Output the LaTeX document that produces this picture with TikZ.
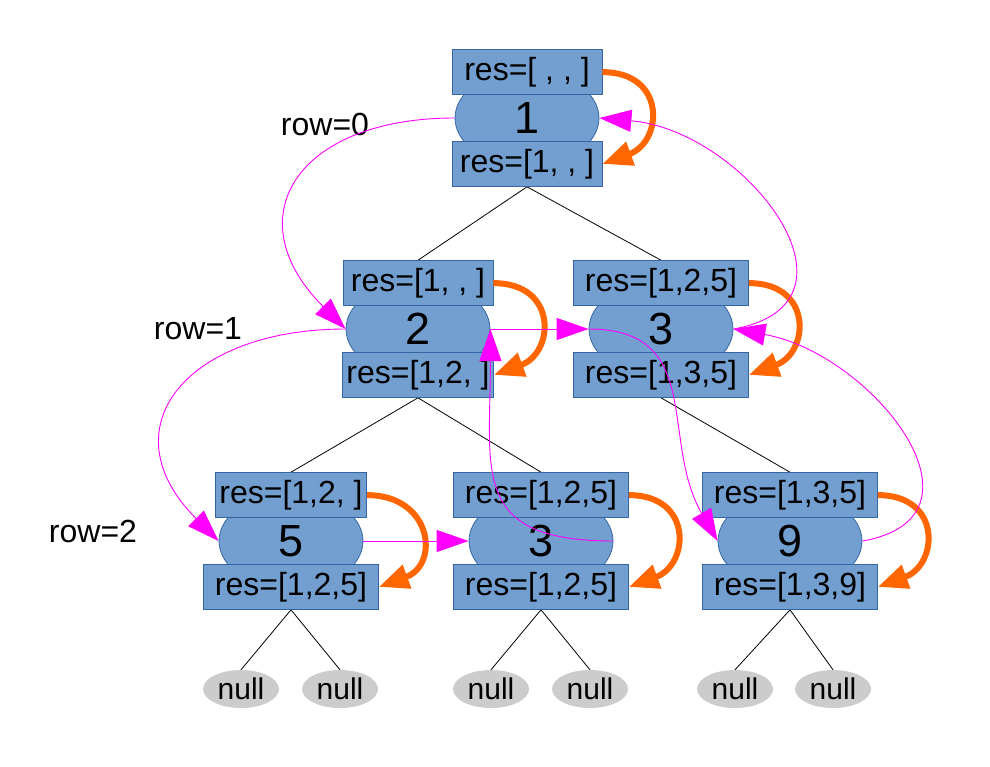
\documentclass[tikz,border=0pt]{standalone}
\usepackage{fontspec}
\setmainfont{Liberation Sans}
\usetikzlibrary{arrows.meta,positioning,shapes.geometric,backgrounds}
\definecolor{boxblue}{HTML}{729FCF}
\definecolor{boxedge}{HTML}{3465A4}
\definecolor{nullgrey}{HTML}{CCCCCC}
\definecolor{copyorange}{HTML}{FF6600}
\definecolor{visitpink}{HTML}{FF00FF}

\begin{document}
\begin{tikzpicture}[
  x=1pt, y=1pt,
  key/.style={ellipse, draw=boxedge, line width=0.8pt, fill=boxblue,
    minimum width=144pt, minimum height=96pt, inner sep=0pt,
    font=\fontsize{45}{50}\selectfont},
  resbox/.style={rectangle, draw=boxedge, line width=0.8pt, fill=boxblue,
    minimum width=150pt, minimum height=45pt, inner xsep=4pt, inner ysep=0pt,
    font=\fontsize{32}{36}\selectfont},
  wide/.style={minimum width=175pt},
  nullnode/.style={ellipse, fill=nullgrey, minimum width=76pt,
    minimum height=38pt, inner sep=0pt, font=\fontsize{30}{34}\selectfont},
  rowlabel/.style={font=\fontsize{32}{36}\selectfont},
  treeline/.style={draw=black, line width=0.8pt},
  copyarc/.style={-{Triangle[length=30pt,width=24pt]}, draw=copyorange, line width=6pt},
  visitarc/.style={-{Triangle[length=32pt,width=22pt]}, draw=visitpink, line width=0.9pt}
]
\useasboundingbox (0,0) rectangle (990,-766);

% keys of the tree
\node[key] (v1) at (527,-118) {1};
\node[key] (v2) at (418,-329) {2};
\node[key] (v3) at (661,-329) {3};
\node[key] (v5) at (291,-541) {5};
\node[key] (v3b) at (541,-541) {3};
\node[key] (v9) at (790,-541) {9};

% res before / after each key
\node[resbox, above=23pt of v1.center] (t1) {res=[ , , ]};
\node[resbox, below=23pt of v1.center] (b1) {res=[1, , ]};
\node[resbox, above=23pt of v2.center] (t2) {res=[1, , ]};
\node[resbox, below=23pt of v2.center] (b2) {res=[1,2, ]};
\node[resbox, wide, above=23pt of v3.center] (t3) {res=[1,2,5]};
\node[resbox, wide, below=23pt of v3.center] (b3) {res=[1,3,5]};
\node[resbox, above=23pt of v5.center] (t5) {res=[1,2, ]};
\node[resbox, wide, below=23pt of v5.center] (b5) {res=[1,2,5]};
\node[resbox, wide, above=23pt of v3b.center] (t3b) {res=[1,2,5]};
\node[resbox, wide, below=23pt of v3b.center] (b3b) {res=[1,2,5]};
\node[resbox, wide, above=23pt of v9.center] (t9) {res=[1,3,5]};
\node[resbox, wide, below=23pt of v9.center] (b9) {res=[1,3,9]};

% leaves
\node[nullnode] (n1) at (241,-689) {null};
\node[nullnode] (n2) at (340,-689) {null};
\node[nullnode] (n3) at (491,-689) {null};
\node[nullnode] (n4) at (590,-689) {null};
\node[nullnode] (n5) at (735,-689) {null};
\node[nullnode] (n6) at (833,-689) {null};

\node[rowlabel] (row0) at (325,-124) {row=0};
\node[rowlabel] (row1) at (198,-329) {row=1};
\node[rowlabel] (row2) at (93,-531) {row=2};

\begin{scope}[on background layer]
\draw[treeline] (b1.south) -- (t2.north);
\draw[treeline] (b1.south) -- (t3.north);
\draw[treeline] (b2.south) -- (t5.north);
\draw[treeline] (b2.south) -- (t3b.north);
\draw[treeline] (b3.south) -- (t9.north);
\draw[treeline] (b5.south) -- (n1.north);
\draw[treeline] (b5.south) -- (n2.north);
\draw[treeline] (b3b.south) -- (n3.north);
\draw[treeline] (b3b.south) -- (n4.north);
\draw[treeline] (b9.south) -- (n5.north);
\draw[treeline] (b9.south) -- (n6.north);
\end{scope}

% copy res down
\draw[copyarc] (t1.east) to[out=0, in=20, looseness=1.8] (b1.east);
\draw[copyarc] (t2.east) to[out=0, in=20, looseness=1.8] (b2.east);
\draw[copyarc] (t3.east) to[out=0, in=20, looseness=1.8] (b3.east);
\draw[copyarc] (t5.east) to[out=0, in=20, looseness=1.8] (b5.east);
\draw[copyarc] (t3b.east) to[out=0, in=20, looseness=1.8] (b3b.east);
\draw[copyarc] (t9.east) to[out=0, in=20, looseness=1.8] (b9.east);

% visiting order
\draw[visitarc] (v1.west) to[out=180, in=135, looseness=1.7] (v2.west);
\draw[visitarc] (v2.west) to[out=180, in=135, looseness=1.65] (v5.west);
\draw[visitarc] (v5.east) -- (v3b.west);
\draw[visitarc] (v3b.east) to[out=180, in=-90, looseness=1.5] (v2.east);
\draw[visitarc] (v2.east) -- (v3.west);
\draw[visitarc] (v3.west) to[out=0, in=120, looseness=1.2] (v9.west);
\draw[visitarc] (v9.east) to[out=10, in=-10, looseness=1.45] (v3.east);
\draw[visitarc] (v3.east) to[out=10, in=-5, looseness=1.5] (v1.east);

\end{tikzpicture}
\end{document}
